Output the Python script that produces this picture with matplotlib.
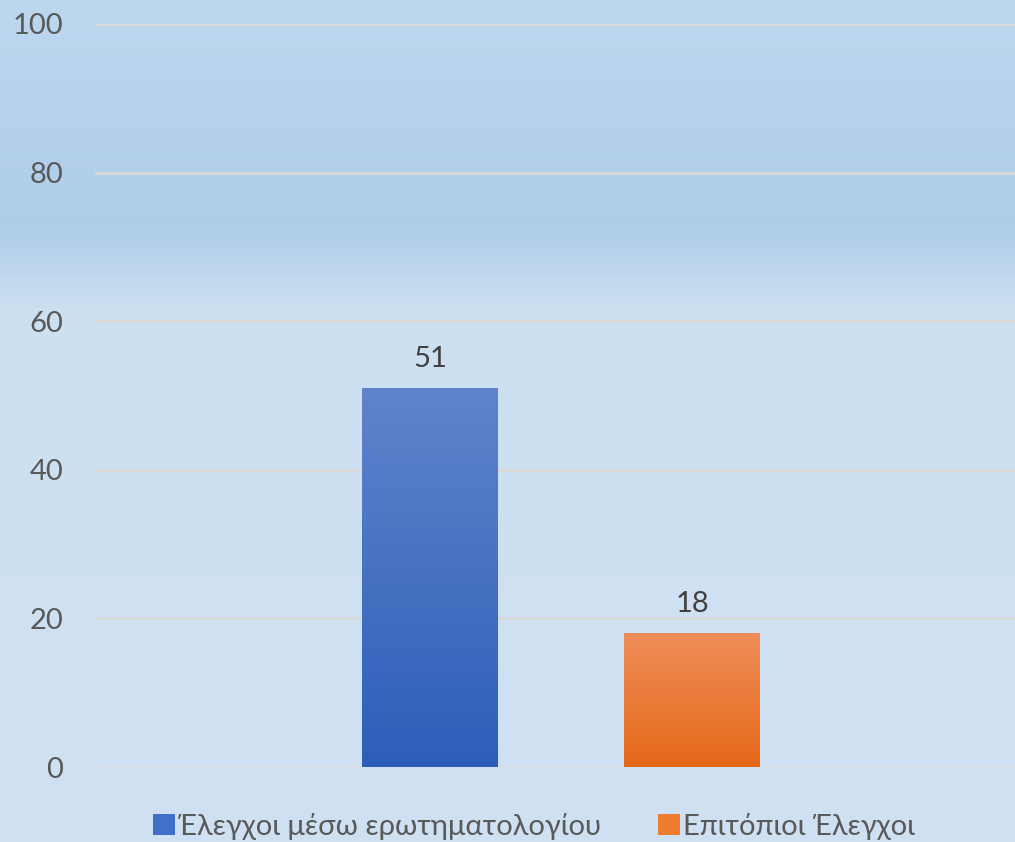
import numpy as np
import matplotlib
matplotlib.use("Agg")
import matplotlib.pyplot as plt
from matplotlib.colors import LinearSegmentedColormap
from matplotlib.patches import Patch

# ---- data ----
series_names = ["Έλεγχοι μέσω ερωτηματολογίου", "Επιτόπιοι Έλεγχοι"]
values = [51, 18]
yticks = [0, 20, 40, 60, 80, 100]

# ---- style ----
plt.rcParams['font.family'] = ['Lato', 'DejaVu Sans']
bar_top = ["#6084cb", "#f08e5a"]
bar_bottom = ["#2c5eb9", "#e46818"]
legend_colors = ["#4070c8", "#f07c30"]

fig = plt.figure(figsize=(10.15, 8.42), dpi=100)

# background gradient
bg = fig.add_axes([0, 0, 1, 1], zorder=-10)
bg.axis("off")
stops = [(0.0, "#bdd7ee"), (0.27, "#afcde9"), (0.37, "#cde0f1"), (1.0, "#cfe1f2")]
cmap_bg = LinearSegmentedColormap.from_list("bg", stops)
grad = np.linspace(0, 1, 512).reshape(-1, 1)
bg.imshow(grad, aspect="auto", cmap=cmap_bg, extent=[0, 1, 0, 1], origin="upper")
bg.set_xlim(0, 1); bg.set_ylim(0, 1)

# main axes: y=100 at px 24, y=0 at px 767; x from 95 to 1015
W, H = 1015, 842
ax = fig.add_axes([95 / W, (H - 767) / H, (1015 - 95) / W, (767 - 24) / H])
ax.set_facecolor("none")

x = np.arange(len(values))
bars = ax.bar(x, values, width=0.519, color="none", edgecolor="none", zorder=3)

for i, b in enumerate(bars):
    x0, y0 = b.get_x(), b.get_y()
    w, h = b.get_width(), b.get_height()
    cm = LinearSegmentedColormap.from_list("b%d" % i, [bar_top[i], bar_bottom[i]])
    im = ax.imshow(np.linspace(0, 1, 256).reshape(-1, 1), cmap=cm, aspect="auto",
                   extent=[x0, x0 + w, y0, y0 + h], origin="upper", zorder=3)
    im.set_clip_path(b)
    ax.text(x0 + w / 2, h + 2.2, str(values[i]), ha="center", va="bottom",
            fontsize=21, color="#404040", zorder=4)

ax.set_xlim(-1.279, 2.233)
ax.set_ylim(0, 100)
ax.set_yticks(yticks)
ax.set_xticks([])
ax.yaxis.grid(True, color="#d9d9d9", linewidth=2, zorder=0)
ax.set_axisbelow(True)
for s in ax.spines.values():
    s.set_visible(False)
ax.tick_params(axis="y", length=0, pad=23, labelsize=21, labelcolor="#595959")

handles = [Patch(facecolor=c, edgecolor="none") for c in legend_colors]
fig.legend(handles, series_names, loc="center", bbox_to_anchor=(534 / W, 1 - 826 / H),
           ncol=2, frameon=False, fontsize=21, labelcolor="#595959",
           handlelength=0.75, handleheight=0.75, handletextpad=0.1, columnspacing=1.95,
           borderpad=0, borderaxespad=0)

fig.savefig("out.png", dpi=100)
